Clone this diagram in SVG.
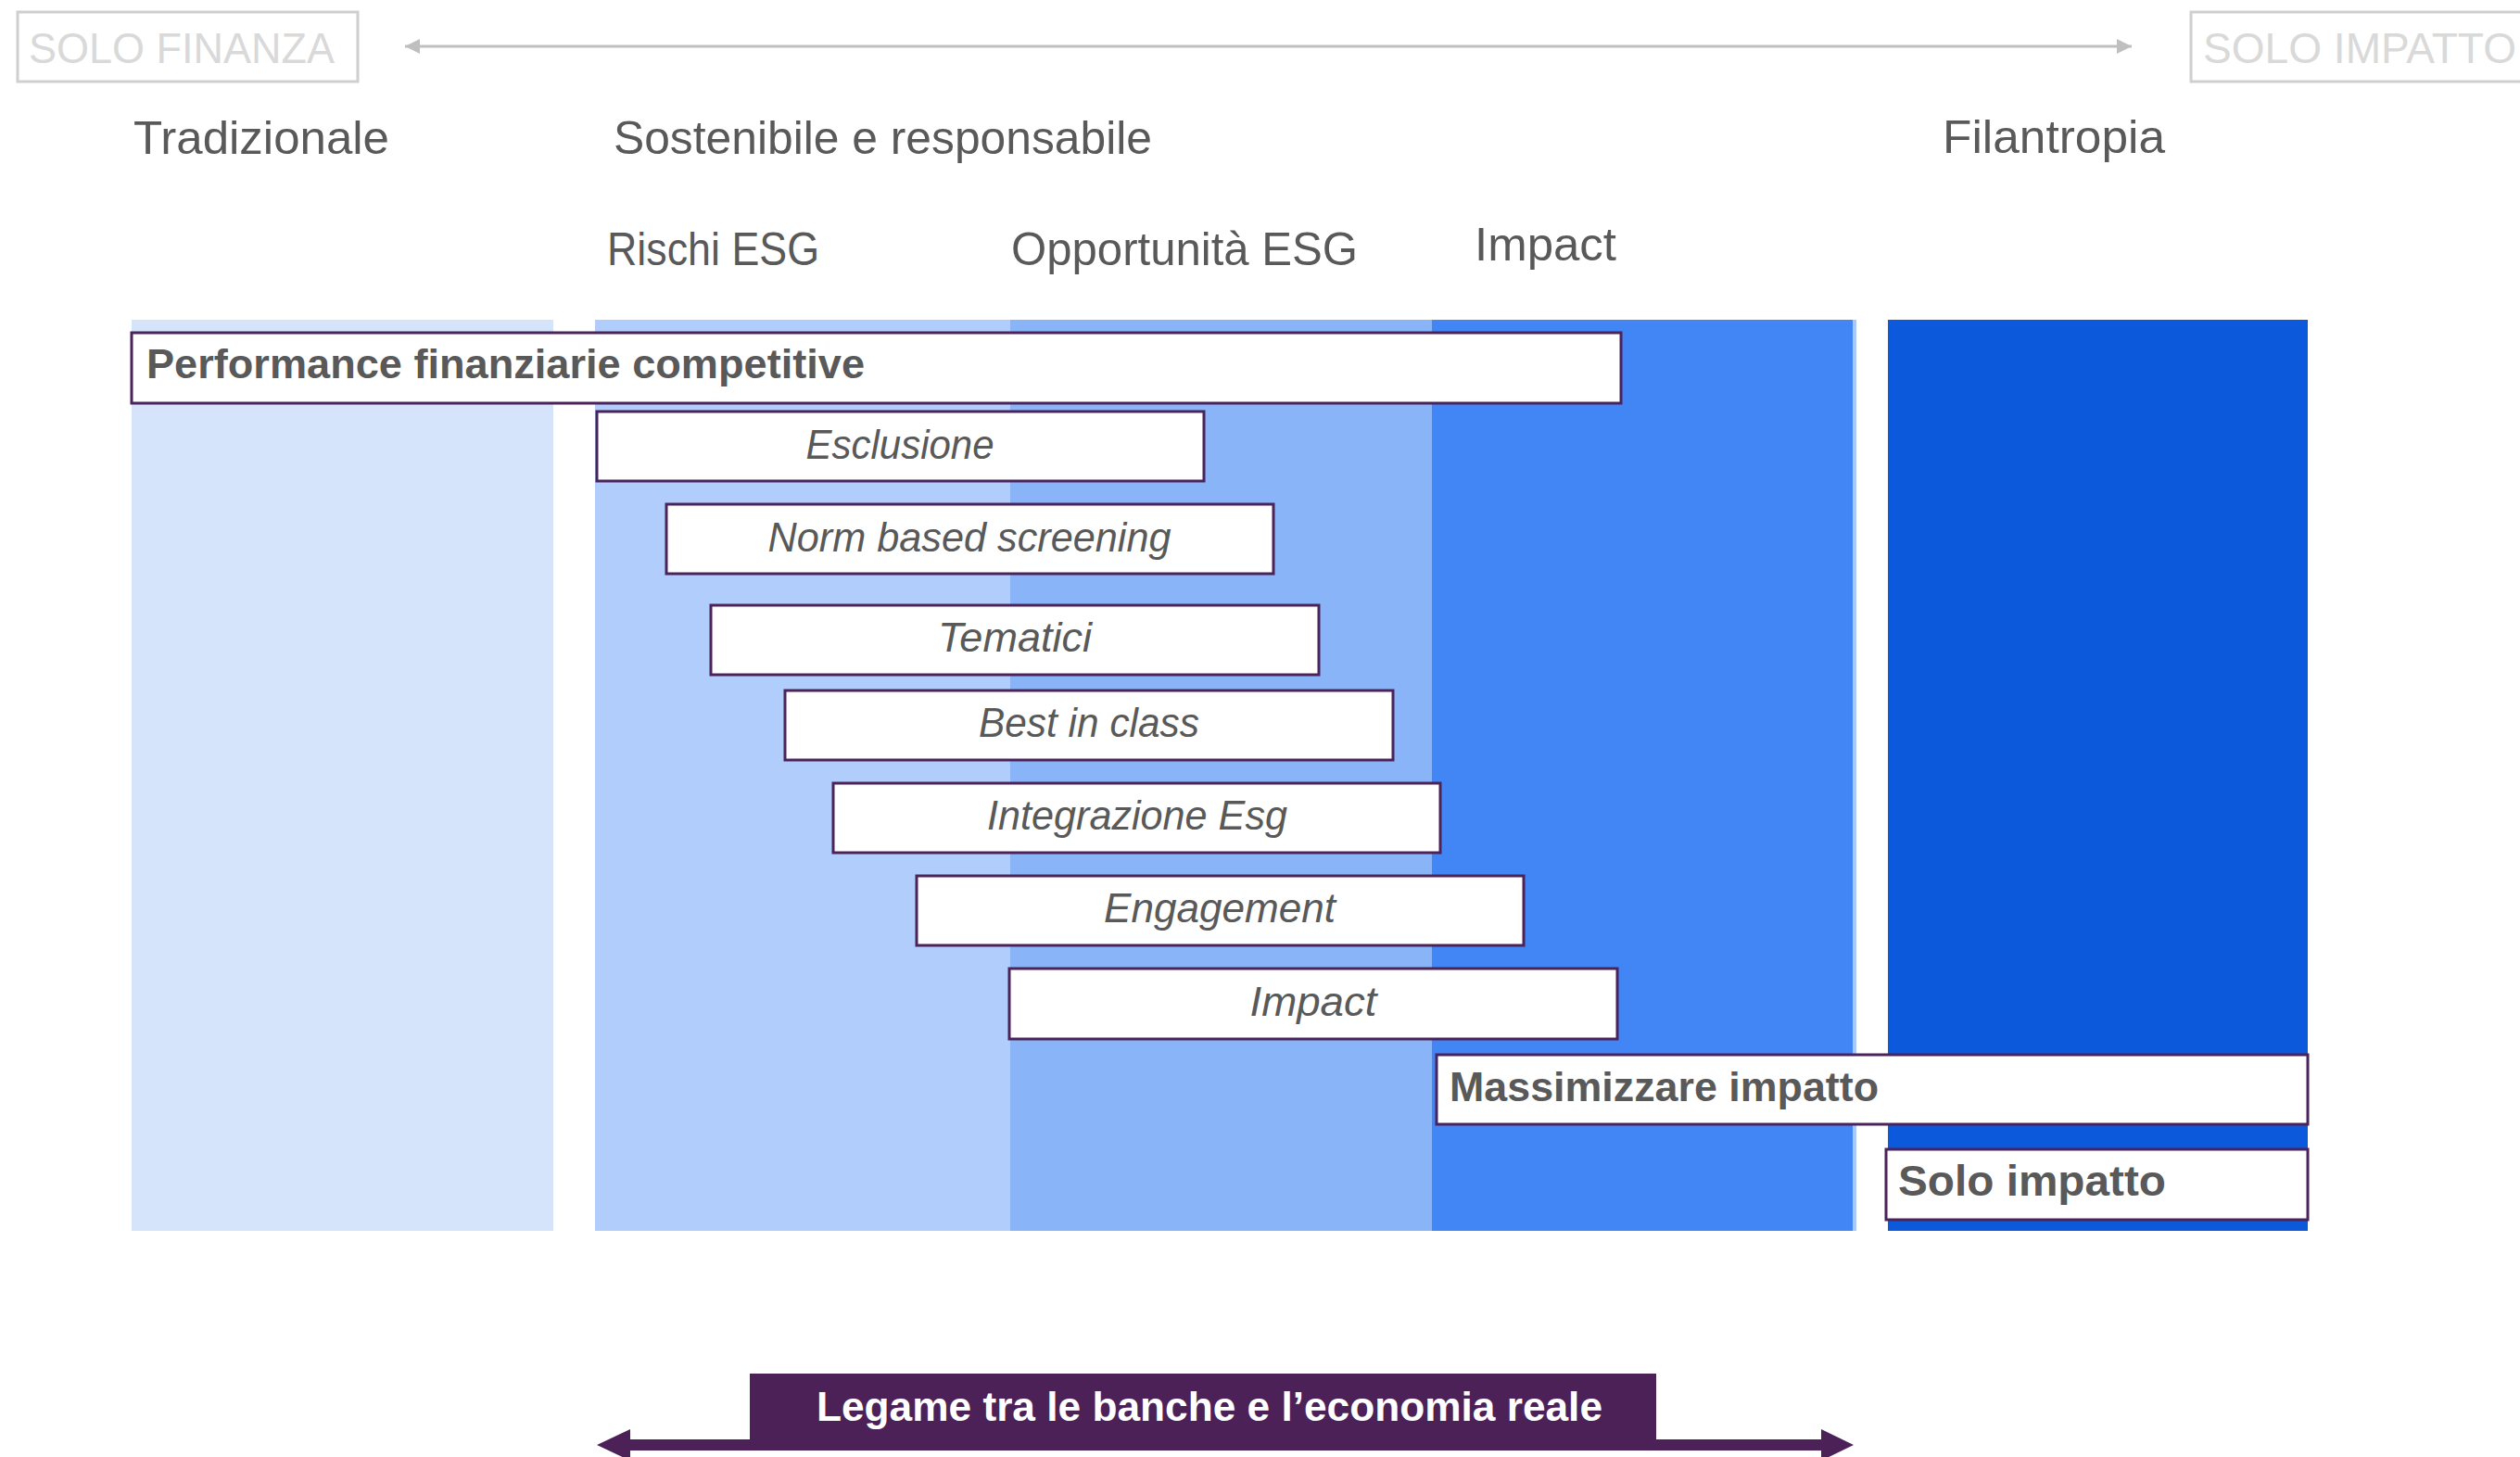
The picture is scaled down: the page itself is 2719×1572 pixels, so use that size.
<svg xmlns="http://www.w3.org/2000/svg" width="2719" height="1572" viewBox="0 0 2719 1572">
<style>
.hdr{font-family:"Liberation Sans",Arial,sans-serif;font-size:50px;fill:#595959}
.solo{font-family:"Liberation Sans",Arial,sans-serif;font-size:47px;fill:#d9d9d9}
.solobox{fill:#fff;stroke:#cfcfcf;stroke-width:3}
.box{fill:#fff;stroke:#4a235a;stroke-width:3}
.it{font-family:"Liberation Sans",Arial,sans-serif;font-size:44px;font-style:italic;fill:#595959;text-anchor:middle}
.bd{font-family:"Liberation Sans",Arial,sans-serif;font-size:45px;font-weight:bold;fill:#595959}
.leg{font-family:"Liberation Sans",Arial,sans-serif;font-size:44px;font-weight:bold;fill:#ffffff;text-anchor:middle}
</style>
<defs>
<marker id="ah" viewBox="0 0 16 16" refX="16" refY="8" markerWidth="16" markerHeight="16" markerUnits="userSpaceOnUse" orient="auto-start-reverse">
<path d="M0,0 L16,8 L0,16 Z" fill="#bfbfbf"/>
</marker>
</defs>
<rect width="2719" height="1572" fill="#ffffff"/>

<g id="columns">
<rect x="142" y="345" width="455" height="983" fill="#d6e4fb"/>
<rect x="642" y="345" width="448" height="983" fill="#b0cdfb"/>
<rect x="1090" y="345" width="455" height="983" fill="#8ab4f8"/>
<rect x="1545" y="345" width="454" height="983" fill="#4285f4"/>
<rect x="1999" y="345" width="4" height="983" fill="#a8c7fa"/>
<rect x="2037" y="345" width="453" height="983" fill="#0c59db"/>
</g>

<g id="connectors">
<line x1="437" y1="50" x2="2300" y2="50" stroke="#bfbfbf" stroke-width="3" marker-start="url(#ah)" marker-end="url(#ah)"/>
<path d="M644,1559 L680,1542 L680,1553 L809,1553 L809,1482 L1787,1482 L1787,1553 L1965,1553 L1965,1542 L2000,1559 L1965,1576 L1965,1565 L680,1565 L680,1576 Z" fill="#4b2158"/>
</g>

<g id="solo-finanza">
<rect class="solobox" x="19" y="13" width="367" height="75"/>
<text class="solo" x="31" y="68" textLength="330" lengthAdjust="spacingAndGlyphs">SOLO FINANZA</text>
</g>
<g id="solo-impatto">
<rect class="solobox" x="2364" y="13" width="380" height="75"/>
<text class="solo" x="2377" y="68" textLength="338" lengthAdjust="spacingAndGlyphs">SOLO IMPATTO</text>
</g>

<g id="headers">
<text class="hdr" x="144" y="166" textLength="276" lengthAdjust="spacingAndGlyphs">Tradizionale</text>
<text class="hdr" x="662" y="166" textLength="581" lengthAdjust="spacingAndGlyphs">Sostenibile e responsabile</text>
<text class="hdr" x="2096" y="165" textLength="240" lengthAdjust="spacingAndGlyphs">Filantropia</text>
<text class="hdr" x="655" y="286" textLength="229" lengthAdjust="spacingAndGlyphs">Rischi ESG</text>
<text class="hdr" x="1091" y="286" textLength="374" lengthAdjust="spacingAndGlyphs">Opportunità ESG</text>
<text class="hdr" x="1591" y="281" textLength="153" lengthAdjust="spacingAndGlyphs">Impact</text>
</g>

<g id="performance">
<rect class="box" x="142" y="359" width="1607" height="76"/>
<text class="bd" x="158" y="408" textLength="775" lengthAdjust="spacingAndGlyphs">Performance finanziarie competitive</text>
</g>
<g id="esclusione">
<rect class="box" x="644" y="444" width="655" height="75"/>
<text class="it" x="971" y="495" textLength="203" lengthAdjust="spacingAndGlyphs">Esclusione</text>
</g>
<g id="norm-based">
<rect class="box" x="719" y="544" width="655" height="75"/>
<text class="it" x="1046" y="595" textLength="435" lengthAdjust="spacingAndGlyphs">Norm based screening</text>
</g>
<g id="tematici">
<rect class="box" x="767" y="653" width="656" height="75"/>
<text class="it" x="1095" y="703" textLength="166" lengthAdjust="spacingAndGlyphs">Tematici</text>
</g>
<g id="best-in-class">
<rect class="box" x="847" y="745" width="656" height="75"/>
<text class="it" x="1175" y="795" textLength="238" lengthAdjust="spacingAndGlyphs">Best in class</text>
</g>
<g id="integrazione">
<rect class="box" x="899" y="845" width="655" height="75"/>
<text class="it" x="1227" y="895" textLength="324" lengthAdjust="spacingAndGlyphs">Integrazione Esg</text>
</g>
<g id="engagement">
<rect class="box" x="989" y="945" width="655" height="75"/>
<text class="it" x="1316" y="995" textLength="250" lengthAdjust="spacingAndGlyphs">Engagement</text>
</g>
<g id="impact-box">
<rect class="box" x="1089" y="1045" width="656" height="76"/>
<text class="it" x="1417" y="1096" textLength="137" lengthAdjust="spacingAndGlyphs">Impact</text>
</g>
<g id="massimizzare">
<rect class="box" x="1550" y="1138" width="940" height="75"/>
<text class="bd" x="1564" y="1188" textLength="463" lengthAdjust="spacingAndGlyphs">Massimizzare impatto</text>
</g>
<g id="solo-impatto-box">
<rect class="box" x="2035" y="1240" width="455" height="76"/>
<text class="bd" x="2048" y="1290" style="font-size:47px" textLength="289" lengthAdjust="spacingAndGlyphs">Solo impatto</text>
</g>
<g id="legame">
<text class="leg" x="1305" y="1533" textLength="848" lengthAdjust="spacingAndGlyphs">Legame tra le banche e l’economia reale</text>
</g>
</svg>
